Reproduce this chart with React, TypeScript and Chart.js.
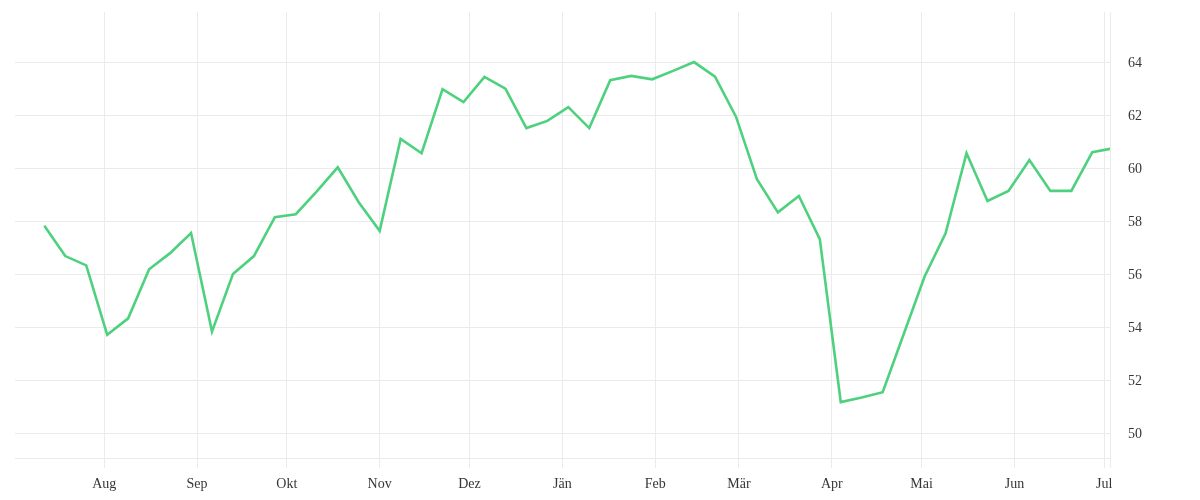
import React, { useEffect, useRef } from 'react';
import { Chart, registerables } from 'chart.js';

Chart.register(...registerables);

// weekly observation dates
const dates = [
  '2022-07-12', '2022-07-19', '2022-07-26', '2022-08-02', '2022-08-09', '2022-08-16', '2022-08-23', '2022-08-30',
  '2022-09-06', '2022-09-13', '2022-09-20', '2022-09-27', '2022-10-04', '2022-10-11', '2022-10-18', '2022-10-25',
  '2022-11-01', '2022-11-08', '2022-11-15', '2022-11-22', '2022-11-29', '2022-12-06', '2022-12-13', '2022-12-20',
  '2022-12-27', '2023-01-03', '2023-01-10', '2023-01-17', '2023-01-24', '2023-01-31', '2023-02-07', '2023-02-14',
  '2023-02-21', '2023-02-28', '2023-03-07', '2023-03-14', '2023-03-21', '2023-03-28', '2023-04-04', '2023-04-11',
  '2023-04-18', '2023-04-25', '2023-05-02', '2023-05-09', '2023-05-16', '2023-05-23', '2023-05-30', '2023-06-06',
  '2023-06-13', '2023-06-20', '2023-06-27', '2023-07-04',
];

const values = [
  57.85, 56.71, 56.36, 53.74, 54.36, 56.21, 56.82, 57.58,
  53.86, 56.03, 56.71, 58.18, 58.29, 59.15, 60.06, 58.74,
  57.66, 61.13, 60.59, 63.01, 62.52, 63.47, 63.03, 61.54,
  61.81, 62.33, 61.54, 63.35, 63.51, 63.38, 63.7, 64.03,
  63.48, 61.97, 59.61, 58.36, 58.98, 57.35, 51.2, 51.37,
  51.57, 53.76, 55.94, 57.57, 60.59, 58.79, 59.17, 60.33,
  59.17, 59.17, 60.63, 60.78,
];

const monthTickDates = [
  '2022-08-01', '2022-09-01', '2022-10-01', '2022-11-01', '2022-12-01', '2023-01-01',
  '2023-02-01', '2023-03-01', '2023-04-01', '2023-05-01', '2023-06-01', '2023-07-01',
];
const monthTickLabels = ['Aug', 'Sep', 'Okt', 'Nov', 'Dez', 'Jän', 'Feb', 'Mär', 'Apr', 'Mai', 'Jun', 'Jul'];

const yTickValues = [50, 52, 54, 56, 58, 60, 62, 64];

const X_START = '2022-07-02T05:00:00Z';
const X_END = '2023-07-02T22:00:00Z';
const Y_MIN = 49.09;
const Y_MAX = 65.92;

const DAY = 86400000;
const ORIGIN = Date.UTC(2022, 7, 1);
const toDay = (s: string) => (Date.parse(s.length === 10 ? s + 'T00:00:00Z' : s) - ORIGIN) / DAY;

const GRID = '#ebebeb';
const TEXT = '#363636';
const LINE = '#4ed17e';
const FONT = { family: '"Liberation Serif", "DejaVu Serif", serif', size: 14 };

export default function App() {
  const ref = useRef<HTMLCanvasElement | null>(null);

  useEffect(() => {
    if (!ref.current) return;
    const xMax = toDay(X_END);
    const chart = new Chart(ref.current, {
      type: 'line',
      data: {
        datasets: [
          {
            data: dates.map((d, i) => ({ x: toDay(d), y: values[i] })),
            borderColor: LINE,
            backgroundColor: LINE,
            borderWidth: 2.6,
            pointRadius: 0,
            pointHoverRadius: 0,
            tension: 0,
            fill: false,
            clip: 0,
          },
        ],
      },
      options: {
        animation: false,
        responsive: true,
        maintainAspectRatio: false,
        layout: { autoPadding: false, padding: { left: 7, top: 4, right: 0, bottom: 0 } },
        plugins: { legend: { display: false }, tooltip: { enabled: false } },
        scales: {
          x: {
            type: 'linear',
            min: toDay(X_START),
            max: xMax,
            grid: { color: GRID, lineWidth: 1, tickLength: 10, drawTicks: true },
            border: { display: true, color: GRID },
            afterBuildTicks: (scale: any) => {
              const t = monthTickDates.map((d) => ({ value: toDay(d) }));
              t.push({ value: xMax });
              scale.ticks = t;
            },
            afterFit: (scale: any) => {
              scale.height = 34;
              scale.paddingLeft = 0;
              scale.paddingRight = 0;
            },
            ticks: {
              autoSkip: false,
              maxRotation: 0,
              padding: 8,
              color: TEXT,
              font: FONT,
              callback: (_v: any, i: number) => monthTickLabels[i] ?? '',
            },
          },
          y: {
            type: 'linear',
            position: 'right',
            min: Y_MIN,
            max: Y_MAX,
            grid: { color: GRID, lineWidth: 1, drawTicks: false },
            border: { display: true, color: GRID },
            afterBuildTicks: (scale: any) => {
              scale.ticks = yTickValues.map((v) => ({ value: v }));
            },
            afterFit: (scale: any) => {
              scale.width = 82;
              scale.paddingTop = 0;
              scale.paddingBottom = 0;
            },
            ticks: {
              padding: 18,
              color: TEXT,
              font: FONT,
              callback: (v: any) => String(v),
            },
          },
        },
      },
    } as any);
    return () => chart.destroy();
  }, []);

  return (
    <div style={{ position: 'relative', width: '100%', height: 484 }}>
      <canvas ref={ref} />
    </div>
  );
}
